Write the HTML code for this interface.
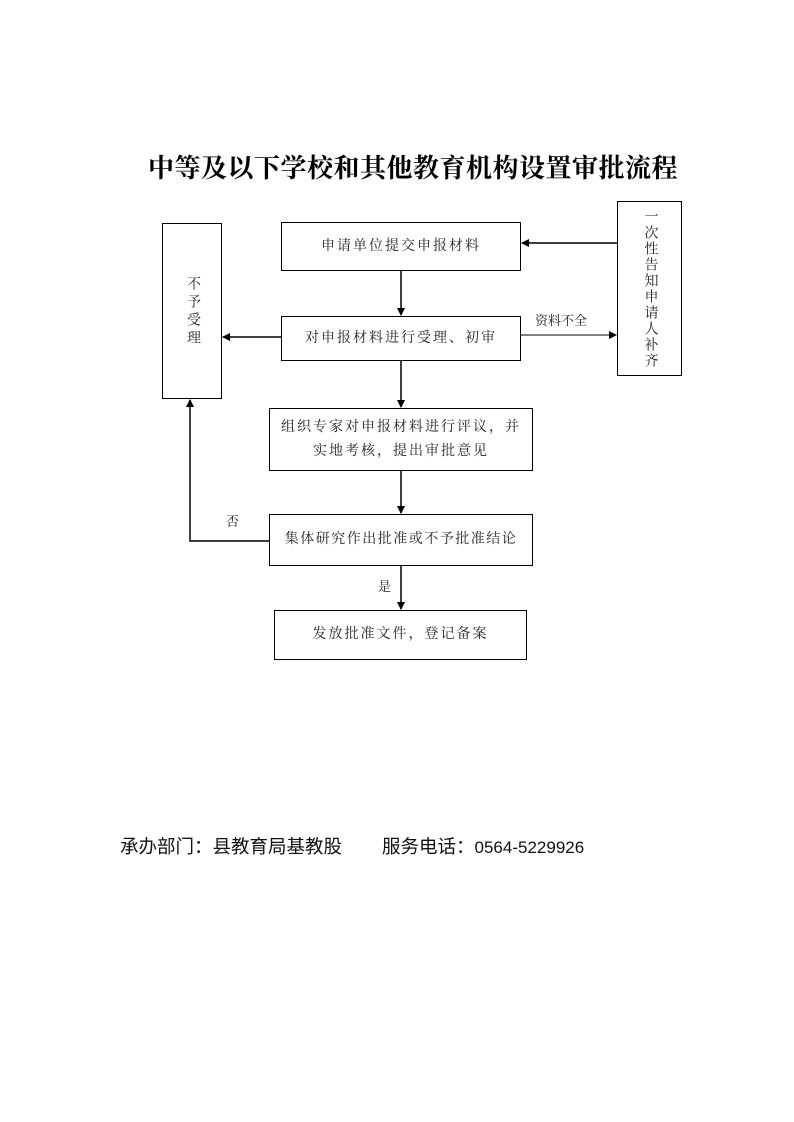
<!DOCTYPE html>
<html><head><meta charset="utf-8"><style>
body{margin:0;background:#fff;}
.p{position:relative;width:794px;height:1122px;overflow:hidden;font-family:"Liberation Serif","Noto Serif CJK SC","Noto Sans CJK SC",serif;}
.b{position:absolute;border:1.5px solid #000;box-sizing:border-box;display:flex;align-items:center;justify-content:center;text-align:center;font-size:14px;letter-spacing:2px;line-height:24px;color:#222;}
.t{position:absolute;font-size:14px;color:#222;}
</style></head><body><div class="p">
<div style="position:absolute;left:148px;top:148px;white-space:nowrap;font-size:26px;font-weight:bold;font-family:'Noto Serif CJK SC',serif;letter-spacing:0.5px;">中等及以下学校和其他教育机构设置审批流程</div>
<div class="b" style="left:281px;top:222px;width:240px;height:49px;">申请单位提交申报材料</div>
<div class="b" style="left:281px;top:316px;width:240px;height:45px;">对申报材料进行受理、初审</div>
<div class="b" style="left:269px;top:408px;width:264px;height:63px;">组织专家对申报材料进行评议，并<br>实地考核，提出审批意见</div>
<div class="b" style="left:269px;top:514px;width:264px;height:52px;letter-spacing:1.5px;">集体研究作出批准或不予批准结论</div>
<div class="b" style="left:274px;top:610px;width:253px;height:50px;">发放批准文件，登记备案</div>
<div class="b" style="left:162px;top:223px;width:60px;height:176px;writing-mode:vertical-rl;letter-spacing:4px;align-items:center;justify-content:flex-start;padding-top:52px;">不予受理</div>
<div class="b" style="left:617px;top:201px;width:65px;height:175px;writing-mode:vertical-rl;letter-spacing:2px;line-height:20px;">一次性告知申请人补齐</div>
<div class="t" style="left:535px;top:310px;font-size:13px;">资料不全</div>
<div class="t" style="left:226px;top:511px;font-size:13px;">否</div>
<div class="t" style="left:378px;top:576px;font-size:13px;">是</div>
<svg width="794" height="1122" style="position:absolute;left:0;top:0">
<defs><marker id="a" markerWidth="8" markerHeight="8" refX="7" refY="4" orient="auto" markerUnits="userSpaceOnUse"><path d="M0,0L8,4L0,8z" fill="#000"/></marker></defs>
<g stroke="#000" stroke-width="1.5" fill="none">
<line x1="401" y1="271" x2="401" y2="315" marker-end="url(#a)"/>
<line x1="401" y1="361" x2="401" y2="407" marker-end="url(#a)"/>
<line x1="401" y1="471" x2="401" y2="513" marker-end="url(#a)"/>
<line x1="401" y1="566" x2="401" y2="609" marker-end="url(#a)"/>
<line x1="617" y1="243" x2="522" y2="243" marker-end="url(#a)"/>
<line x1="521" y1="335" x2="616" y2="335" stroke-width="1" marker-end="url(#a)"/>
<line x1="281" y1="337" x2="223" y2="337" marker-end="url(#a)"/>
<polyline points="269,541 190,541 190,400" marker-end="url(#a)"/>
</g></svg>
<div style="position:absolute;left:120px;top:833px;font-size:18.5px;font-family:'Liberation Sans','Noto Sans CJK SC',sans-serif;white-space:nowrap;color:#111;">承办部门：县教育局基教股<span style="position:absolute;left:262px;top:0;">服务电话：<span style="font-size:17px;">0564-5229926</span></span></div>
</div></body></html>
